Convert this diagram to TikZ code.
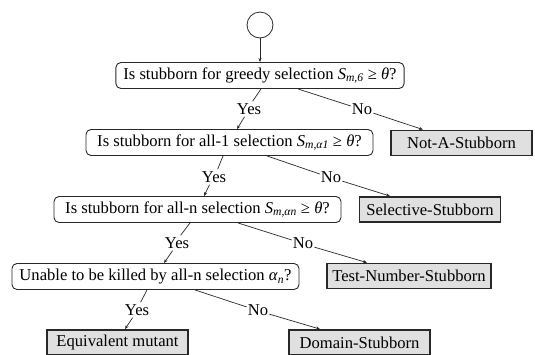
\documentclass[tikz,border=0pt]{standalone}
\usepackage{fontspec}
\setmainfont{Liberation Serif}
\usetikzlibrary{arrows.meta}
\tikzstyle{chart} = [x = 1pt, y = -1pt, every node/.style={font=\fontsize{16.6}{19}\selectfont}]
\definecolor{boxLine}{RGB}{40,40,40}
\definecolor{resultFill}{RGB}{224,224,224}
\tikzstyle{questionStyle} = [draw=boxLine, fill=white, rounded corners = 5pt, line width=.9pt, minimum height=26pt, minimum width=287pt, inner xsep=7.5pt, inner ysep=0pt]
\tikzstyle{resultStyle} = [draw=boxLine, fill=resultFill, line width=1.8pt, minimum height=25pt, minimum width=141pt, inner xsep=5pt, inner ysep=0pt]
\tikzstyle{answerStyle} = [inner xsep=1pt, inner ysep=2pt]
\tikzstyle{branchLine} = [color=boxLine, line width=.7pt]
\tikzstyle{branchArrow} = [branchLine, -{Stealth[length=4pt, width=3.2pt]}]
\newcommand{\questionBox}[4]{\node [questionStyle] (#1) at (#2, #3) {#4};}
\newcommand{\resultBox}[4]{\node [resultStyle] (#1) at (#2, #3) {#4};}
\newcommand{\yesBranch}[5]{
  \draw [branchLine] (#1.south -| #4,0) -- (#2.65);
  \draw [branchArrow] (#2.240) -- (#3.north -| #5,0);
}
\newcommand{\noBranch}[5]{
  \draw [branchLine] (#1.south -| #4,0) -- (#2.165);
  \draw [branchArrow] (#2.-20) -- (#3.north -| #5,0);
}
\newcommand{\stubIndex}[1]{\textit{S}\textsubscript{\textit{m},\textit{#1}} ≥ \textit{θ}?}

\begin{document}
\begin{tikzpicture}[chart]
  \useasboundingbox (0, 0) rectangle (535, 354);
  \node [draw=boxLine, line width=.8pt, circle, minimum size=26pt, inner sep=0pt] (start) at (260, 25) {};

  \questionBox{greedyQ}{260}{75.5}{Is stubborn for greedy selection \stubIndex{6}}
  \questionBox{allOneQ}{229.5}{142.5}{Is stubborn for all-1 selection \stubIndex{α1}}
  \questionBox{allNQ}{197.5}{209.5}{Is stubborn for all-n selection \stubIndex{αn}}
  \questionBox{killedQ}{155.5}{276.5}{Unable to be killed by all-n selection \textit{α}\textsubscript{\textit{n}}?}

  \resultBox{notStub}{461.5}{143}{Not-A-Stubborn}
  \resultBox{selStub}{430}{209.5}{Selective-Stubborn}
  \resultBox{testStub}{409}{276}{Test-Number-Stubborn}
  \resultBox{equivMut}{117.5}{342.5}{Equivalent mutant}
  \resultBox{domStub}{359.5}{342.5}{Domain-Stubborn}

  \node [answerStyle] (yesOne) at (249, 109) {Yes};
  \node [answerStyle] (noOne) at (362, 109) {No};
  \node [answerStyle] (yesTwo) at (214, 177) {Yes};
  \node [answerStyle] (noTwo) at (331, 177) {No};
  \node [answerStyle] (yesThree) at (177, 243) {Yes};
  \node [answerStyle] (noThree) at (303, 243) {No};
  \node [answerStyle] (yesFour) at (137, 310) {Yes};
  \node [answerStyle] (noFour) at (258, 310) {No};

  \draw [branchArrow] (start.south) -- (greedyQ.north -| start.south);
  \yesBranch{greedyQ}{yesOne}{allOneQ}{261}{237}
  \noBranch{greedyQ}{noOne}{notStub}{298}{423}
  \yesBranch{allOneQ}{yesTwo}{allNQ}{223}{204}
  \noBranch{allOneQ}{noTwo}{selStub}{267}{390}
  \yesBranch{allNQ}{yesThree}{killedQ}{190}{164}
  \noBranch{allNQ}{noThree}{testStub}{238}{367}
  \yesBranch{killedQ}{yesFour}{equivMut}{147}{125}
  \noBranch{killedQ}{noFour}{domStub}{195}{320}
\end{tikzpicture}
\end{document}
